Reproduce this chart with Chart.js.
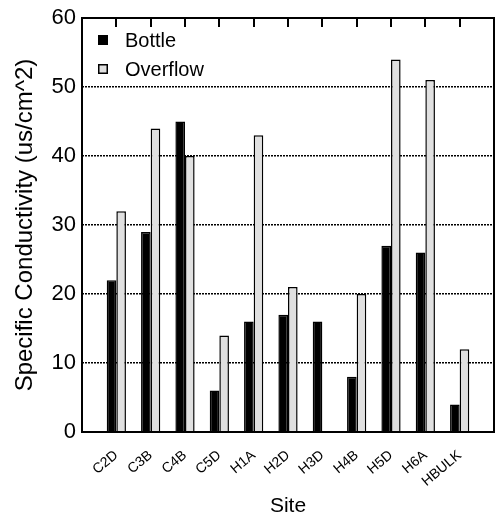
<!DOCTYPE html>
<html>
<head>
<meta charset="utf-8">
<script src="https://cdn.jsdelivr.net/npm/chart.js@4/dist/chart.umd.min.js"></script>
<style>
  html, body { margin: 0; padding: 0; background: #fff; }
  #wrap { width: 497px; height: 521px; }
</style>
</head>
<body>
<div id="wrap"><canvas id="c"></canvas></div>
<script>
// Sampling sites and measured specific conductivity
const sites = ['C2D', 'C3B', 'C4B', 'C5D', 'H1A', 'H2D', 'H3D', 'H4B', 'H5D', 'H6A', 'HBULK'];
const bottle = [22, 29, 45, 6, 16, 17, 16, 8, 27, 26, 4];
const overflow = [32, 44, 40, 14, 43, 21, null, 20, 54, 51, 12];
const yTicks = [0, 10, 20, 30, 40, 50, 60];

const FONT = "'Liberation Sans', Arial, Helvetica, sans-serif";

// one empty slot on each side so the sites sit one step in from the frame
const labels = [''].concat(sites, ['']);
const pad = arr => [null].concat(arr, [null]);

// closed box around the plot with short inward ticks along the top edge
const framePlugin = {
  id: 'frame',
  afterDatasetsDraw(chart) {
    const { ctx, chartArea: a, scales } = chart;
    ctx.save();
    ctx.strokeStyle = '#000';
    ctx.lineWidth = 2;
    ctx.strokeRect(a.left, a.top, a.right - a.left, a.bottom - a.top);
    ctx.beginPath();
    for (let i = 1; i <= sites.length; i++) {
      const x = Math.round(scales.x.getPixelForValue(i));
      ctx.moveTo(x, a.top);
      ctx.lineTo(x, a.top + 9);
    }
    ctx.stroke();
    ctx.restore();
  }
};

// legend drawn inside the upper-left corner of the plot
const innerLegend = {
  id: 'innerLegend',
  afterDatasetsDraw(chart) {
    const { ctx, chartArea: a } = chart;
    ctx.save();
    ctx.font = '20px ' + FONT;
    ctx.textBaseline = 'middle';
    ctx.textAlign = 'left';
    chart.data.datasets.forEach((ds, i) => {
      const cy = a.top + 22 + i * 29;
      const bx = a.left + 16;
      ctx.fillStyle = ds.backgroundColor;
      ctx.fillRect(bx, cy - 5, 10, 10);
      ctx.strokeStyle = '#000';
      ctx.lineWidth = 1.5;
      ctx.strokeRect(bx + 0.75, cy - 4.25, 8.5, 8.5);
      ctx.fillStyle = '#000';
      ctx.fillText(ds.label, a.left + 43, cy + 1);
    });
    ctx.restore();
  }
};

new Chart(document.getElementById('c'), {
  type: 'bar',
  data: {
    labels: labels,
    datasets: [
      {
        label: 'Bottle',
        data: pad(bottle),
        backgroundColor: '#000000',
        borderColor: '#000000',
        borderWidth: 1.5,
        categoryPercentage: 0.56,
        barPercentage: 1.0
      },
      {
        label: 'Overflow',
        data: pad(overflow),
        backgroundColor: '#e0e0e0',
        borderColor: '#000000',
        borderWidth: 1.5,
        categoryPercentage: 0.56,
        barPercentage: 1.0
      }
    ]
  },
  options: {
    responsive: true,
    maintainAspectRatio: false,
    animation: false,
    devicePixelRatio: 1,
    layout: { padding: { top: 18, right: 3, left: 0, bottom: 2 } },
    plugins: {
      legend: { display: false },
      tooltip: { enabled: false }
    },
    scales: {
      x: {
        offset: false,
        afterFit(scale) {
          scale.height = 87;
          scale.paddingLeft = 0;
          scale.paddingRight = 0;
        },
        grid: { display: false, drawTicks: false },
        border: { display: false },
        ticks: {
          autoSkip: false,
          minRotation: 40,
          maxRotation: 40,
          padding: 15,
          color: '#000',
          font: { family: FONT, size: 14 }
        },
        title: {
          display: true,
          text: 'Site',
          color: '#000',
          font: { family: FONT, size: 21 },
          padding: { top: 4, bottom: 0 }
        }
      },
      y: {
        min: 0,
        max: 60,
        afterBuildTicks(scale) {
          scale.ticks = yTicks.map(v => ({ value: v }));
        },
        afterFit(scale) {
          scale.width = 82;
          scale.paddingTop = 0;
          scale.paddingBottom = 0;
        },
        grid: {
          color: ctx => (ctx.tick && (ctx.tick.value === 0 || ctx.tick.value === 60)) ? 'rgba(0,0,0,0)' : '#000',
          lineWidth: 1.5,
          drawTicks: false
        },
        border: { display: false, dash: [2, 1] },
        ticks: {
          padding: 6,
          color: '#000',
          font: { family: FONT, size: 22 }
        },
        title: {
          display: true,
          text: 'Specific Conductivity (us/cm^2)',
          color: '#000',
          font: { family: FONT, size: 24 },
          padding: { top: 11, bottom: 0 }
        }
      }
    }
  },
  plugins: [framePlugin, innerLegend]
});
</script>
</body>
</html>
